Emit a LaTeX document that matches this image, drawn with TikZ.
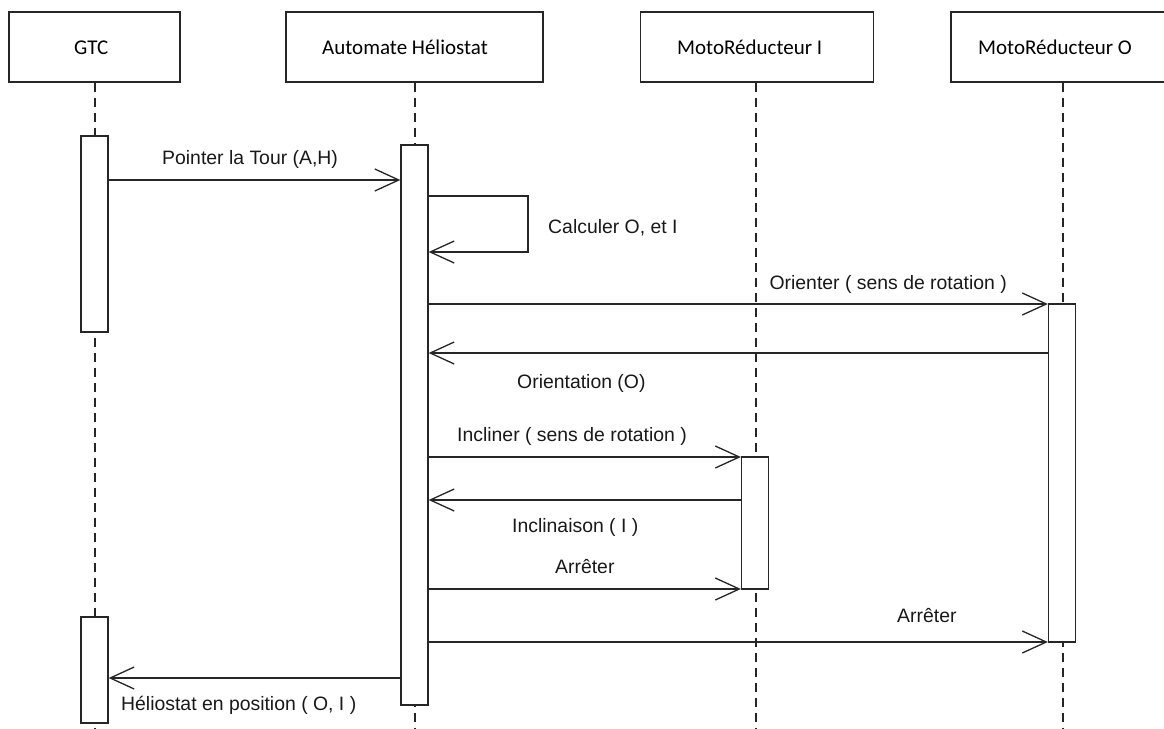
\documentclass[tikz,border=0pt]{standalone}
\usepackage{fontspec}
\setmainfont{Liberation Sans}
\newfontfamily\hdrfont{Carlito}
\usetikzlibrary{arrows.meta}
\begin{document}
\begin{tikzpicture}[x=1pt,y=-1pt,
  ln/.style={line width=1.3pt, draw=black!85},
  hdr/.style={ln, rectangle, inner sep=0pt, minimum height=70pt, fill=white},
  hdrtext/.style={font=\hdrfont\fontsize{21}{25}\selectfont, inner sep=0pt, anchor=base west},
  lifeline/.style={ln, line width=1.5pt, dash pattern=on 9pt off 6pt},
  bar/.style={ln, rectangle, inner sep=0pt, minimum width=27pt, fill=white},
  msg/.style={ln, -{Straight Barb[length=24pt, width=22pt, line width=1.3pt]}},
  lbl/.style={font=\fontsize{19.4}{23}\selectfont, inner sep=0pt, text=black!90}
]
\useasboundingbox (0,0) rectangle (1164,728);
\clip (0,0) rectangle (1164,728);
\fill[white] (0,0) rectangle (1164,728);

% header boxes
\node[hdr, minimum width=171pt] (gtc) at (94.5,47) {};
\node[hdr, minimum width=257pt] (aut) at (414.5,47) {};
\node[hdr, minimum width=233pt] (mi) at (757,47) {};
\node[hdr, minimum width=224pt] (mo) at (1063,47) {};
\node[hdrtext] (gtct) at (74,54) {GTC};
\node[hdrtext] (autt) at (322,54) {Automate Héliostat};
\node[hdrtext] (mit) at (677,54) {MotoRéducteur I};
\node[hdrtext] (mot) at (978,54) {MotoRéducteur O};

% lifeline ends
\coordinate (gend) at (95,728);
\coordinate (aend) at (415,728);
\coordinate (iend) at (756,728);
\coordinate (oend) at (1063,728);
\draw[lifeline] (gtc.south -| gend) -- (gend);
\draw[lifeline] (aut.south -| aend) -- (aend);
\draw[lifeline] (mi.south -| iend) -- (iend);
\draw[lifeline] (mo.south) -- (oend);

% activation bars
\node[bar, minimum height=196pt] (g1) at (94.5,234) {};
\node[bar, minimum height=106pt] (g2) at (94.5,670) {};
\node[bar, minimum height=560pt] (a1) at (414.5,425) {};
\node[bar, minimum height=132pt] (i1) at (755,523) {};
\node[bar, minimum height=338pt] (o1) at (1062,473) {};

% message levels
\coordinate (y1) at (0,180);
\coordinate (s1) at (528,196);
\coordinate (s2) at (528,252);
\coordinate (y3) at (0,304);
\coordinate (y4) at (0,353);
\coordinate (y5) at (0,457);
\coordinate (y6) at (0,500);
\coordinate (y7) at (0,589);
\coordinate (y8) at (0,642);
\coordinate (y9) at (0,678);

\draw[msg] (g1.east |- y1) -- (a1.west |- y1);
\draw[msg] (a1.east |- s1) -- (s1) -- (s2) -- (a1.east |- s2);
\draw[msg] (a1.east |- y3) -- (o1.west |- y3);
\draw[msg] (o1.west |- y4) -- (a1.east |- y4);
\draw[msg] (a1.east |- y5) -- (i1.west |- y5);
\draw[msg] (i1.west |- y6) -- (a1.east |- y6);
\draw[msg] (a1.east |- y7) -- (i1.west |- y7);
\draw[msg] (a1.east |- y8) -- (o1.west |- y8);
\draw[msg] (a1.west |- y9) -- (g2.east |- y9);

% labels
\node[lbl, anchor=base west] (l1) at (162,164) {Pointer la Tour (A,H)};
\node[lbl, anchor=base west] (l2) at (548,233) {Calculer O, et I};
\node[lbl, anchor=base east] (l3) at (1007,289) {Orienter ( sens de rotation )};
\node[lbl, anchor=base west] (l4) at (517,388) {Orientation (O)};
\node[lbl, anchor=base west] (l5) at (457,441) {Incliner ( sens de rotation )};
\node[lbl, anchor=base west] (l6) at (512,532) {Inclinaison ( I )};
\node[lbl, anchor=base west] (l7) at (555,573) {Arrêter};
\node[lbl, anchor=base west] (l8) at (897,622) {Arrêter};
\node[lbl, anchor=base west] (l9) at (121,710) {Héliostat en position ( O, I )};
\end{tikzpicture}
\end{document}
